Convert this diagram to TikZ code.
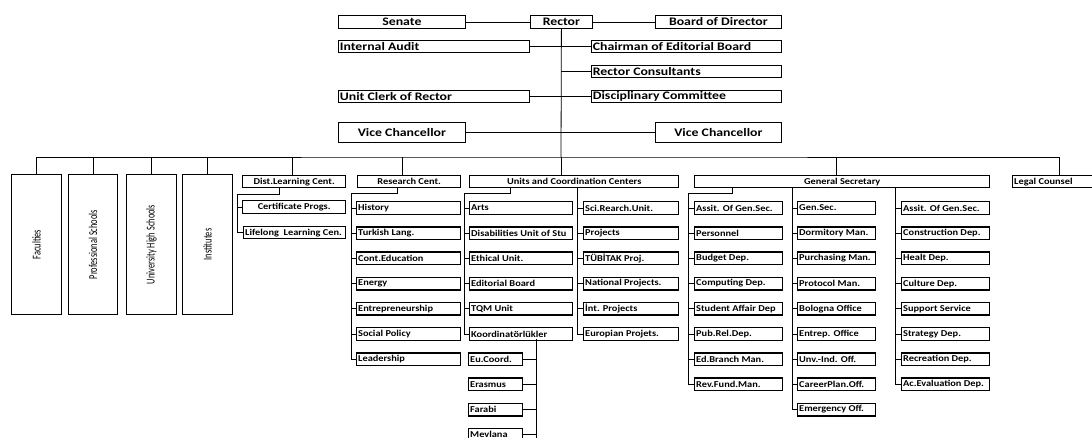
\documentclass[tikz,border=0pt]{standalone}
\usepackage{fontspec}
\setmainfont{Carlito}
\newfontfamily\calfam{Carlito}[FakeStretch=1.2]
\newfontfamily\smallfam{Carlito}[FakeStretch=1.15]
\newfontfamily\narrowfam{Carlito}[FakeStretch=0.7]
\newcommand\topfont{\calfam\bfseries\fontsize{11.5}{12}\selectfont}
\newcommand\smfont{\smallfam\bfseries\fontsize{9}{10}\selectfont}
\newcommand\vfont{\narrowfam\fontsize{12}{13}\selectfont}

% box with centred text: style, name, x1, y1, x2, y2, text
\newcommand\cbox[7]{%
  \pgfmathsetmacro\bw{#5-#3}\pgfmathsetmacro\bh{#6-#4}%
  \node[#1,minimum width=\bw pt,minimum height=\bh pt] (#2) at (#3,#4) {#7};}
% box with left aligned text
\newcommand\lbox[7]{%
  \pgfmathsetmacro\bw{#5-#3}\pgfmathsetmacro\bh{#6-#4}%
  \node[#1,minimum width=\bw pt,minimum height=\bh pt] (#2) at (#3,#4)
    {\makebox[\dimexpr\bw pt-3pt\relax][l]{#7}};}

\tikzset{
  topbox/.style={draw, line width=0.8pt, inner sep=0pt, anchor=north west, font=\topfont},
  midbox/.style={draw, line width=1.4pt, inner sep=0pt, anchor=north west, font=\smfont},
  smbox/.style={draw, line width=1.4pt, inner sep=0pt, anchor=north west, font=\smfont},
  tallbox/.style={draw, line width=1.2pt, inner sep=0pt, anchor=north west, font=\vfont},
  link/.style={draw, line width=0.8pt},
}

\begin{document}
\begin{tikzpicture}[x=1pt,y=-1pt]
\useasboundingbox (0,0) rectangle (1092,437);
\clip (0,0) rectangle (1092,437);

% ---- rector level ----
\cbox{topbox}{senate}{338}{15}{465}{28}{Senate}
\cbox{topbox}{rector}{530}{15}{592}{28}{Rector}
\cbox{topbox}{board}{655}{15}{781}{28}{Board of Director}
\lbox{topbox}{audit}{338}{40}{529}{52}{Internal Audit}
\lbox{topbox}{chair}{591}{40}{781}{52}{Chairman of Editorial Board}
\lbox{topbox}{cons}{591}{65}{781}{77}{Rector Consultants}
\lbox{topbox}{clerk}{338}{90}{529}{102}{Unit Clerk of Rector}
\lbox{topbox}{disc}{591}{90}{781}{102}{Disciplinary Committee}
\cbox{topbox}{vc1}{338}{122}{465}{142}{Vice Chancellor}
\cbox{topbox}{vc2}{655}{122}{781}{142}{Vice Chancellor}

\coordinate (bus) at (561,157);
\draw[link] (senate.east) -- (rector.west);
\draw[link] (rector.east) -- (board.west);
\draw[link] (rector.south) -- (bus);
\draw[link] (audit.east) -- (chair.west);
\draw[link] (cons.west -| bus) -- (cons.west);
\draw[link] (clerk.east) -- (disc.west);
\draw[link] (vc1.east) -- (vc2.west);

% ---- units under the rector ----
\cbox{tallbox}{fac}{11}{174}{61}{314}{\rotatebox{90}{Faculties}}
\cbox{tallbox}{prof}{68}{174}{117}{314}{\rotatebox{90}{Professional Schools}}
\cbox{tallbox}{univ}{126}{174}{176}{314}{\rotatebox{90}{University High Schools}}
\cbox{tallbox}{inst}{182}{174}{232}{314}{\rotatebox{90}{Institutes}}
\cbox{midbox}{dist}{242}{175}{345}{187}{Dist.Learning Cent.}
\cbox{midbox}{research}{357}{175}{460}{187}{Research Cent.}
\cbox{midbox}{units}{469}{175}{678}{187}{Units and Coordination Centers}
\cbox{midbox}{gs}{694}{175}{989}{187}{General Secretary}
\lbox{midbox}{legal}{1012}{175}{1106}{187}{Legal Counsel}

\draw[link] (fac.north) |- (bus) -| (legal.north);
\draw[link] (prof.north) -- (prof.north |- bus);
\draw[link] (univ.north) -- (univ.north |- bus);
\draw[link] (inst.north) -- (inst.north |- bus);
\draw[link] ([xshift=-1.5pt]dist.north) -- ([xshift=-1.5pt]dist.north |- bus);
\draw[link] ([xshift=-7pt]research.north) -- ([xshift=-7pt]research.north |- bus);
\draw[link] (units.north -| bus) -- (bus);
\draw[link] ([xshift=-5.5pt]gs.north) -- ([xshift=-5.5pt]gs.north |- bus);

% ---- distance learning ----
\cbox{smbox}{cert}{242}{200}{345}{213}{Certificate Progs.}
\lbox{smbox}{life}{243}{226}{345}{238}{Lifelong\ \ Learning Cen.}
\coordinate (dsp) at (237,194);
\draw[link] ([xshift=-14.5pt]dist.south) |- (dsp) |- (life.west);
\draw[link] (cert.west -| dsp) -- (cert.west);

% ---- research centres ----
\coordinate (rsp) at (351,193);
\foreach \t [count=\i from 0] in {History,Turkish Lang.,Cont.Education,Energy,
    Entrepreneurship,Social Policy,Leadership}{
  \pgfmathsetmacro\ty{201+25.2*\i}\pgfmathsetmacro\tb{\ty+12.5}
  \lbox{smbox}{rc\i}{356}{\ty}{460}{\tb}{\t}
  \draw[link] (rc\i.west -| rsp) -- (rc\i.west);
}
\draw[link] ([xshift=-12pt]research.south) |- (rsp) -- (rsp |- rc6.west);

% ---- units and coordination centres ----
\coordinate (ulsp) at (464,193);
\foreach \t [count=\i from 0] in {Arts,Disabilities Unit of Stu,Ethical Unit.,
    Editorial Board,TQM Unit,Koordinatörlükler}{
  \pgfmathsetmacro\ty{201+25.2*\i}\pgfmathsetmacro\tb{\ty+12.5}
  \lbox{smbox}{ul\i}{469}{\ty}{572}{\tb}{\t}
  \draw[link] (ul\i.west -| ulsp) -- (ul\i.west);
}
\draw[link] ([xshift=-63.5pt]units.south) |- (ulsp) -- (ulsp |- ul5.west);

\coordinate (ursp) at (577,187);
\foreach \t [count=\i from 0] in {Sci.Rearch.Unit.,Projects,TÜBİTAK Proj.,
    National Projects.,İnt. Projects,Europian Projets.}{
  \pgfmathsetmacro\ty{201+25.2*\i}\pgfmathsetmacro\tb{\ty+12.5}
  \lbox{smbox}{ur\i}{583}{\ty}{678}{\tb}{\t}
  \draw[link] (ur\i.west -| ursp) -- (ur\i.west);
}
\draw[link] (ursp) -- (ursp |- ur5.west);

% coordinators
\coordinate (ksp) at (536,339);
\coordinate (kend) at (536,445);
\foreach \t [count=\i from 6] in {Eu.Coord.,Erasmus,Farabi,Mevlana}{
  \pgfmathsetmacro\ty{201+25.2*\i}\pgfmathsetmacro\tb{\ty+12.5}
  \lbox{smbox}{kc\i}{468}{\ty}{522}{\tb}{\t}
  \draw[link] (kc\i.east) -- (kc\i.east -| ksp);
}
\draw[link] (ksp) -- (kend);

% ---- general secretary ----
\coordinate (glsp) at (688,193);
\foreach \t [count=\i from 0] in {Assit. Of Gen.Sec.,Personnel,Budget Dep.,
    Computing Dep.,Student Affair Dep,Pub.Rel.Dep.,Ed.Branch Man.,Rev.Fund.Man.}{
  \pgfmathsetmacro\ty{201+25.2*\i}\pgfmathsetmacro\tb{\ty+12.5}
  \lbox{smbox}{gl\i}{694}{\ty}{782}{\tb}{\t}
  \draw[link] (gl\i.west -| glsp) -- (gl\i.west);
}
\draw[link] ([xshift=-109.5pt]gs.south) |- (glsp) -- (glsp |- gl7.west);

\coordinate (gmsp) at (792,187);
\foreach \t [count=\i from 0] in {Gen.Sec.,Dormitory Man.,Purchasing Man.,
    Protocol Man.,Bologna Office,Entrep. Office,Unv.-Ind. Off.,CareerPlan.Off.,
    Emergency Off.}{
  \pgfmathsetmacro\ty{201+25.2*\i}\pgfmathsetmacro\tb{\ty+12.5}
  \lbox{smbox}{gm\i}{797}{\ty}{875}{\tb}{\t}
  \draw[link] (gm\i.west -| gmsp) -- (gm\i.west);
}
\draw[link] (gmsp) -- (gmsp |- gm8.west);

\coordinate (grsp) at (895,187);
\foreach \t [count=\i from 0] in {Assit. Of Gen.Sec.,Construction Dep.,Healt Dep.,
    Culture Dep.,Support Service,Strategy Dep.,Recreation Dep.,Ac.Evaluation Dep.}{
  \pgfmathsetmacro\ty{201+25.2*\i}\pgfmathsetmacro\tb{\ty+12.5}
  \lbox{smbox}{gr\i}{901}{\ty}{989}{\tb}{\t}
  \draw[link] (gr\i.west -| grsp) -- (gr\i.west);
}
\draw[link] (grsp) -- (grsp |- gr7.west);
\end{tikzpicture}
\end{document}
